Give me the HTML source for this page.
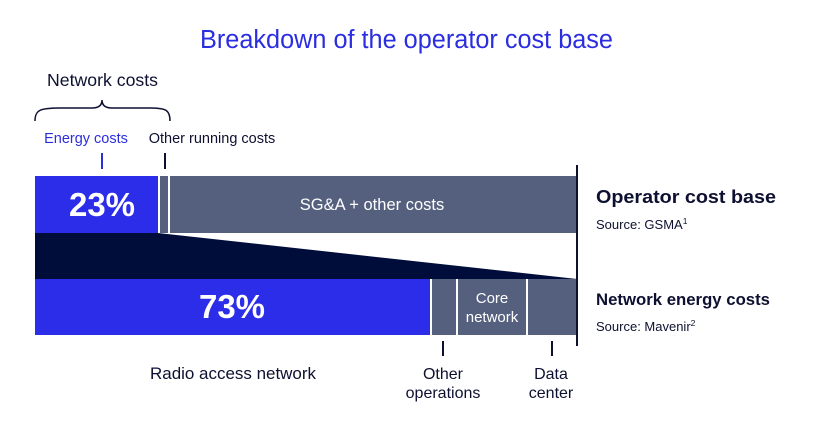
<!DOCTYPE html>
<html><head><meta charset="utf-8"><style>
html,body{margin:0;padding:0;background:#fff;}
svg{display:block;font-family:"Liberation Sans",sans-serif;}
</style></head><body>
<svg width="814" height="433" viewBox="0 0 814 433" xmlns="http://www.w3.org/2000/svg">
<rect width="814" height="433" fill="#fff"/>
<text x="200" y="48" font-size="25.5" fill="#2b2de0" textLength="413" lengthAdjust="spacingAndGlyphs">Breakdown of the operator cost base</text>
<text x="47" y="86" font-size="17.5" fill="#0d1030" textLength="111" lengthAdjust="spacingAndGlyphs">Network costs</text>
<path d="M35 121 C35 110 40 108 60 108 L92 108 C100 108 102 104 102 100 C102 104 104 108 112 108 L150 108 C166 108 170 110 170 121" fill="none" stroke="#0d1030" stroke-width="1.5"/>
<text x="86" y="143" text-anchor="middle" font-size="14.5" fill="#2b2de0">Energy costs</text>
<text x="212" y="143" text-anchor="middle" font-size="14.5" fill="#0d1030">Other running costs</text>
<line x1="102" y1="153" x2="102" y2="169" stroke="#2b2de0" stroke-width="2"/>
<line x1="165" y1="153" x2="165" y2="169" stroke="#0d1030" stroke-width="2"/>
<rect x="35" y="176" width="123" height="57" fill="#2b2de8"/>
<rect x="160" y="176" width="8" height="57" fill="#55607f"/>
<rect x="170" y="176" width="406" height="57" fill="#55607f"/>
<text x="102" y="216" text-anchor="middle" font-size="33" font-weight="bold" fill="#fff">23%</text>
<text x="372" y="210" text-anchor="middle" font-size="16.5" fill="#fff">SG&amp;A + other costs</text>
<polygon points="35,233 158,233 577,279 35,279" fill="#000d3a"/>
<rect x="35" y="279" width="395" height="56" fill="#2b2de8"/>
<rect x="432" y="279" width="24" height="56" fill="#55607f"/>
<rect x="458" y="279" width="68" height="56" fill="#55607f"/>
<rect x="528" y="279" width="48" height="56" fill="#55607f"/>
<text x="232" y="318" text-anchor="middle" font-size="33" font-weight="bold" fill="#fff">73%</text>
<text x="492" y="303" text-anchor="middle" font-size="15" fill="#fff">Core</text>
<text x="492" y="322" text-anchor="middle" font-size="15" fill="#fff">network</text>
<line x1="577" y1="165" x2="577" y2="346" stroke="#0d1030" stroke-width="2"/>
<line x1="443" y1="341" x2="443" y2="356" stroke="#0d1030" stroke-width="2"/>
<line x1="552" y1="341" x2="552" y2="356" stroke="#0d1030" stroke-width="2"/>
<text x="150" y="379" font-size="16.5" fill="#0d1030" textLength="166" lengthAdjust="spacingAndGlyphs">Radio access network</text>
<text x="443" y="379" text-anchor="middle" font-size="16" fill="#0d1030">Other</text>
<text x="443" y="398" text-anchor="middle" font-size="16" fill="#0d1030">operations</text>
<text x="551" y="379" text-anchor="middle" font-size="16" fill="#0d1030">Data</text>
<text x="551" y="398" text-anchor="middle" font-size="16" fill="#0d1030">center</text>
<text x="596" y="203" font-size="18" font-weight="bold" fill="#0d1030" textLength="180" lengthAdjust="spacingAndGlyphs">Operator cost base</text>
<text x="596" y="229" font-size="13" fill="#0d1030">Source: GSMA<tspan font-size="8.5" dy="-5">1</tspan></text>
<text x="596" y="305" font-size="17" font-weight="bold" fill="#0d1030" textLength="174" lengthAdjust="spacingAndGlyphs">Network energy costs</text>
<text x="596" y="331" font-size="13" fill="#0d1030">Source: Mavenir<tspan font-size="8.5" dy="-5">2</tspan></text>
</svg>
</body></html>
